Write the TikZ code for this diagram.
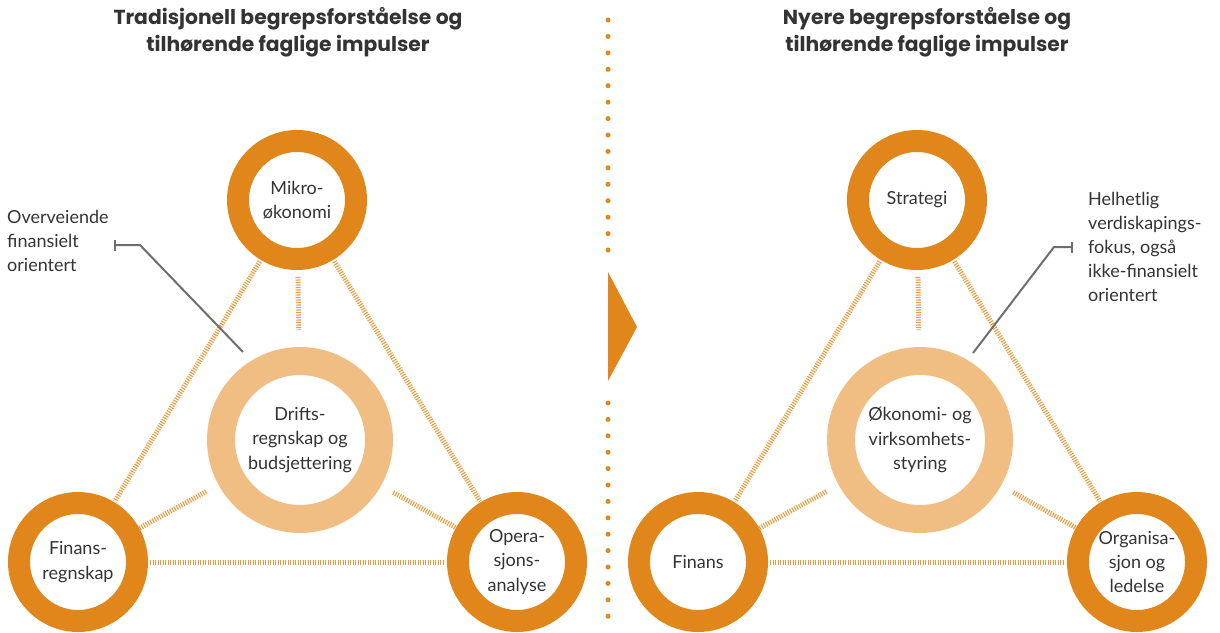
\documentclass[tikz,border=0pt]{standalone}
\usepackage{fontspec}
\setmainfont{Lato}
\newfontfamily\titlefont{Poppins}
\usetikzlibrary{arrows.meta}
\definecolor{ora}{HTML}{E0861A}
\definecolor{lora}{HTML}{F0BE82}
\definecolor{hat}{HTML}{E99A3C}
\definecolor{txt}{HTML}{333333}
\definecolor{callc}{HTML}{6E6E6E}
\begin{document}
\begin{tikzpicture}[x=1pt,y=-1pt,
  ring/.style={circle, draw=ora, line width=22pt, minimum size=118pt, inner sep=0pt,
    align=center, text=txt, font=\fontsize{18}{24.2}\selectfont},
  midring/.style={circle, draw=lora, line width=28pt, minimum size=158pt, inner sep=0pt,
    align=center, text=txt, font=\fontsize{18}{24.2}\selectfont},
  hatch/.style={draw=hat, line width=5pt, dash pattern=on 1.1pt off 1.4pt},
  callout/.style={draw=callc, line width=2pt, -{Bar[width=11pt,line width=2pt]}},
  note/.style={text=txt, align=left, inner sep=0pt, font=\fontsize{18}{24.2}\selectfont},
  title/.style={text=txt, align=center, inner sep=0pt, font=\titlefont\bfseries\fontsize{20.3}{27}\selectfont},
  dots/.style={draw=ora, line width=5pt, line cap=round}
]
\useasboundingbox (0,0) rectangle (1220,632);

% ---------- left diagram ----------
\node[title] (tl) at (288,32) {Tradisjonell begrepsforståelse og\\tilhørende faglige impulser};
\node[ring] (mik) at (297,200) {Mikro-\\økonomi};
\node[midring] (dri) at (300,440) {Drifts-\\regnskap og\\budsjettering};
\node[ring] (fin) at (78,562) {Finans-\\regnskap};
\node[ring] (ope) at (517,562) {Opera-\\sjons-\\analyse};

\draw[hatch, shorten <=7pt, shorten >=17pt] (mik) -- (dri);
\draw[hatch, shorten <=2pt, shorten >=1pt] (mik) -- (fin);
\draw[hatch, shorten <=2pt, shorten >=1pt] (mik) -- (ope);
\draw[hatch, shorten <=2pt, shorten >=2pt] (fin) -- (ope);
\draw[hatch, shorten <=14pt, shorten >=0pt] (dri) -- (fin);
\draw[hatch, shorten <=14pt, shorten >=0pt] (dri) -- (ope);

\node[note, anchor=west] (ov) at (7,241) {Overveiende\\finansielt\\orientert};
\coordinate (l1) at (114,245);
\coordinate (l2) at (140,245);
\coordinate (l3) at (243,352);
\draw[callout] (l3) -- (l2) -- (l1);

% ---------- divider ----------
\draw[dots, dash pattern=on 0pt off 16.43pt] (608,20) -- (608,252);
\coordinate (t1) at (608,272);
\coordinate (t2) at (637,327);
\coordinate (t3) at (608,381);
\fill[ora] (t1) -- (t2) -- (t3) -- cycle;
\draw[dots, dash pattern=on 0pt off 16.4pt] (608,403) -- (608,632);

% ---------- right diagram ----------
\node[title] (tr) at (927,32) {Nyere begrepsforståelse og\\tilhørende faglige impulser};
\node[ring] (str) at (917,200) {Strategi};
\node[midring] (oko) at (920,440) {Økonomi- og\\virksomhets-\\styring};
\node[ring] (fi2) at (698,562) {Finans};
\node[ring] (org) at (1137,562) {Organisa-\\sjon og\\ledelse};

\draw[hatch, shorten <=7pt, shorten >=17pt] (str) -- (oko);
\draw[hatch, shorten <=2pt, shorten >=1pt] (str) -- (fi2);
\draw[hatch, shorten <=2pt, shorten >=1pt] (str) -- (org);
\draw[hatch, shorten <=2pt, shorten >=2pt] (fi2) -- (org);
\draw[hatch, shorten <=14pt, shorten >=0pt] (oko) -- (fi2);
\draw[hatch, shorten <=14pt, shorten >=0pt] (oko) -- (org);

\node[note, anchor=west] (hel) at (1088,247) {Helhetlig\\verdiskapings-\\fokus, også\\ikke-finansielt\\orientert};
\coordinate (r1) at (1073,247);
\coordinate (r2) at (1054,247);
\coordinate (r3) at (973,353);
\draw[callout] (r3) -- (r2) -- (r1);
\end{tikzpicture}
\end{document}
